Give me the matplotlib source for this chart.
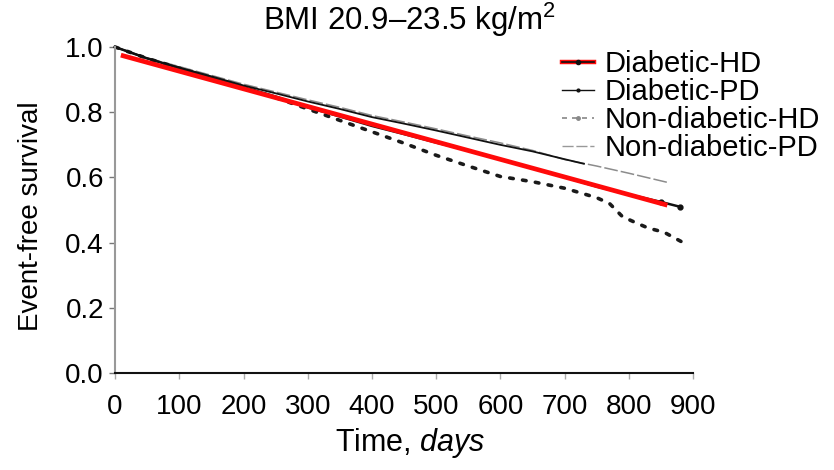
import matplotlib
matplotlib.use("Agg")
import matplotlib.pyplot as plt
from matplotlib.lines import Line2D

plt.rcParams['font.family'] = ['Liberation Sans', 'DejaVu Sans']
plt.rcParams['mathtext.fontset'] = 'custom'
plt.rcParams['mathtext.rm'] = 'Liberation Sans'
plt.rcParams['mathtext.it'] = 'Liberation Sans:italic'

# survival curves (days, event-free survival)
dhd_days = [0, 50, 100, 150, 200, 250, 300, 350, 400, 450, 500, 550, 600, 650, 700, 750, 800, 850, 880]
dhd_surv = [1.0, 0.965, 0.935, 0.905, 0.877, 0.848, 0.815, 0.787, 0.758, 0.733, 0.707, 0.683, 0.656, 0.628, 0.601, 0.572, 0.548, 0.525, 0.51]

dpd_days = [0, 50, 100, 150, 200, 250, 300, 350, 400, 450, 500, 550, 600, 650, 700, 730]
dpd_surv = [1.0, 0.965, 0.937, 0.91, 0.882, 0.858, 0.833, 0.81, 0.785, 0.765, 0.744, 0.722, 0.70, 0.68, 0.656, 0.642]

ndhd_days = [0, 50, 100, 150, 200, 250, 300, 350, 400, 450, 500, 550, 600, 650, 700, 750, 770, 790, 810, 830, 855, 883]
ndhd_surv = [1.0, 0.965, 0.935, 0.905, 0.875, 0.845, 0.81, 0.775, 0.74, 0.705, 0.668, 0.635, 0.603, 0.587, 0.567, 0.538, 0.52, 0.48, 0.462, 0.445, 0.432, 0.402]

ndpd_days = [0, 50, 100, 150, 200, 250, 300, 350, 400, 450, 500, 550, 600, 650, 700, 750, 800, 860]
ndpd_surv = [1.0, 0.967, 0.94, 0.913, 0.886, 0.862, 0.838, 0.815, 0.79, 0.77, 0.749, 0.727, 0.706, 0.683, 0.655, 0.635, 0.613, 0.585]

# red trend line drawn over the Diabetic-HD curve
red_days = [9, 860]
red_surv = [0.975, 0.515]

x_ticks = [0, 100, 200, 300, 400, 500, 600, 700, 800, 900]
y_ticks = [0.0, 0.2, 0.4, 0.6, 0.8, 1.0]
labels = ['Diabetic-HD', 'Diabetic-PD', 'Non-diabetic-HD', 'Non-diabetic-PD']

fig = plt.figure(figsize=(8.34, 4.70), dpi=100)
ax = fig.add_axes([0.138, 0.206, 0.693, 0.694])

ax.plot(ndpd_days, ndpd_surv, color='#8c8c8c', lw=1.1, dashes=(9, 2), clip_on=False)
ax.plot(dpd_days, dpd_surv, color='#111111', lw=1.3, clip_on=False)
ax.plot(ndhd_days, ndhd_surv, color='#1a1a1a', lw=2.6, dashes=(1.0, 2.6),
        dash_capstyle='round', clip_on=False)
ax.plot(dhd_days, dhd_surv, color='#111111', lw=1.8, clip_on=False)
ax.plot(dhd_days[-2:], dhd_surv[-2:], 'o', color='#111111', ms=3.5, clip_on=False)
ax.plot(red_days, red_surv, color='#ff0a0a', lw=3.4, solid_capstyle='butt', clip_on=False)

ax.set_xlim(0, 900)
ax.set_ylim(0, 1.0)
ax.set_xticks(x_ticks)
ax.set_yticks(y_ticks)
ax.set_yticklabels([f'{v:.1f}' for v in y_ticks], fontsize=20)
ax.set_xticklabels([str(v) for v in x_ticks], fontsize=20)
ax.tick_params(axis='y', length=4, width=1, color='#777777', pad=4)
ax.tick_params(axis='x', length=4, width=1, color='#aaaaaa', pad=11)

for s in ['top', 'right']:
    ax.spines[s].set_visible(False)
ax.spines['left'].set_color('#999999')
ax.spines['left'].set_linewidth(1.5)
ax.spines['bottom'].set_color('#111111')
ax.spines['bottom'].set_linewidth(1.5)

yl = ax.set_ylabel('Event-free survival', fontsize=20)
ax.yaxis.set_label_coords(-0.145, 0.48)
yl.set_va('center')
xl = ax.set_xlabel('Time, $\\it{days}$', fontsize=22)
ax.xaxis.set_label_coords(0.51, -0.215)
xl.set_va('center')

fig.text(410 / 834, 1 - 20 / 470, 'BMI 20.9\u201323.5 kg/m$^2$', fontsize=22.5,
         ha='center', va='center')

h_dhd = (Line2D([], [], color='#ff0a0a', lw=3.2),
         Line2D([], [], color='#111111', lw=1.2, marker='o', ms=3))
h_dpd = Line2D([], [], color='#111111', lw=1.0, marker='o', ms=2)
h_ndhd = Line2D([], [], color='#888888', lw=1.2, dashes=(3, 3), marker='o', ms=2.5, markevery=[1])
h_ndpd = Line2D([], [], color='#999999', lw=1.0, dashes=(8, 2))
ax.legend([h_dhd, h_dpd, h_ndhd, h_ndpd], labels, loc='upper left',
          bbox_to_anchor=(562 / 834, 1 - 50 / 470), bbox_transform=fig.transFigure,
          frameon=False, fontsize=21, handlelength=1.1, handletextpad=0.35,
          labelspacing=0.0, borderpad=0, borderaxespad=0)

fig.savefig('out.png', dpi=100, facecolor='white')
